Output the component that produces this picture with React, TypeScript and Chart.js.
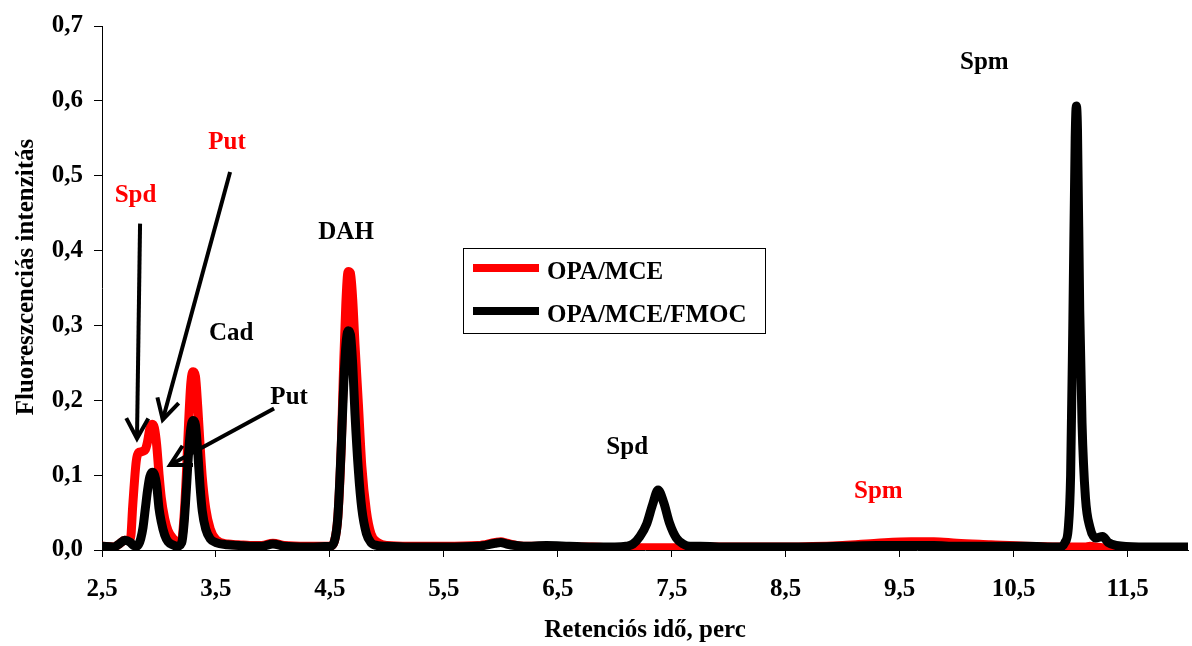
import React, { useEffect, useRef } from 'react';
import { Chart, registerables } from 'chart.js';

Chart.register(...registerables);

// Retention time (min)
const TIME = [
  2.5, 2.6, 2.65, 2.7, 2.75, 2.77, 2.8, 2.82, 2.84, 2.86, 2.88, 2.9, 2.92, 2.94, 2.96, 2.98,
  3.0, 3.02, 3.05, 3.08, 3.12, 3.16, 3.2, 3.22, 3.24, 3.26, 3.28, 3.3, 3.32, 3.34, 3.36, 3.38,
  3.41, 3.45, 3.5, 3.6, 3.7, 3.8, 3.9, 4.0, 4.1, 4.3, 4.5, 4.54, 4.57, 4.6, 4.62, 4.64, 4.66,
  4.68, 4.7, 4.72, 4.75, 4.78, 4.82, 4.86, 4.92, 5.0, 5.2, 5.5, 5.8, 5.95, 6.0, 6.05, 6.2, 6.4,
  6.6, 6.8, 7.0, 7.1, 7.16, 7.22, 7.28, 7.33, 7.38, 7.43, 7.48, 7.54, 7.6, 7.66, 7.75, 8.0,
  8.5, 9.0, 9.3, 9.6, 9.8, 10.0, 10.3, 10.6, 10.9, 10.95, 10.98, 11.0, 11.02, 11.04, 11.05,
  11.06, 11.08, 11.1, 11.13, 11.17, 11.22, 11.28, 11.33, 11.4, 11.6, 12.0, 12.03,
];

// OPA/MCE (red)
const OPA_MCE = [
  0.005, 0.004, 0.008, 0.013, 0.015, 0.06, 0.118, 0.13, 0.131, 0.132, 0.134, 0.145, 0.162, 0.168, 0.163, 0.14,
  0.102, 0.07, 0.042, 0.026, 0.016, 0.011, 0.015, 0.045, 0.1, 0.17, 0.224, 0.238, 0.232, 0.192, 0.142, 0.097,
  0.056, 0.028, 0.014, 0.008, 0.007, 0.006, 0.006, 0.009, 0.006, 0.005, 0.005, 0.012, 0.045, 0.14, 0.245, 0.33, 0.372,
  0.37, 0.335, 0.275, 0.195, 0.112, 0.052, 0.022, 0.01, 0.006, 0.005, 0.005, 0.006, 0.01, 0.011, 0.009, 0.005, 0.005,
  0.004, 0.004, 0.003, 0.003, 0.003, 0.003, 0.003, 0.003, 0.003, 0.003, 0.003, 0.003, 0.003, 0.004, 0.004, 0.004,
  0.004, 0.006, 0.009, 0.011, 0.011, 0.009, 0.007, 0.005, 0.004, 0.004, 0.004, 0.004, 0.004, 0.004, 0.004,
  0.004, 0.004, 0.004, 0.004, 0.005, 0.004, 0.003, 0.003, 0.003, 0.003, 0.003, 0.003,
];

// OPA/MCE/FMOC (black)
const OPA_MCE_FMOC = [
  0.005, 0.004, 0.008, 0.013, 0.01, 0.007, 0.005, 0.007, 0.015, 0.03, 0.055, 0.08, 0.098, 0.104, 0.101, 0.086,
  0.056, 0.038, 0.02, 0.011, 0.007, 0.005, 0.01, 0.035, 0.08, 0.13, 0.163, 0.173, 0.167, 0.132, 0.086, 0.052,
  0.028, 0.015, 0.01, 0.007, 0.006, 0.005, 0.005, 0.008, 0.005, 0.004, 0.005, 0.012, 0.045, 0.14, 0.217, 0.273, 0.293,
  0.288, 0.248, 0.182, 0.106, 0.055, 0.022, 0.01, 0.006, 0.005, 0.004, 0.004, 0.005, 0.009, 0.01, 0.008, 0.005, 0.006,
  0.005, 0.004, 0.004, 0.005, 0.008, 0.018, 0.035, 0.06, 0.08, 0.063, 0.036, 0.016, 0.008, 0.005, 0.005, 0.004,
  0.004, 0.005, 0.006, 0.006, 0.006, 0.005, 0.005, 0.005, 0.004, 0.01, 0.03, 0.1, 0.31, 0.55, 0.593,
  0.563, 0.32, 0.17, 0.07, 0.03, 0.016, 0.018, 0.01, 0.006, 0.004, 0.004, 0.004,
];

const SERIES_NAMES = ['OPA/MCE', 'OPA/MCE/FMOC'];
const SERIES_COLORS = ['#ff0000', '#000000'];

const X_TICKS = [2.5, 3.5, 4.5, 5.5, 6.5, 7.5, 8.5, 9.5, 10.5, 11.5];
const Y_TICKS = [0, 0.1, 0.2, 0.3, 0.4, 0.5, 0.6, 0.7];

const X_TITLE = 'Retenciós idő, perc';
const Y_TITLE = 'Fluoreszcenciás intenzitás';

// Peak labels: text, x (time), baseline y (intensity), colour
const PEAK_TEXT = ['Spd', 'Put', 'DAH', 'Cad', 'Put', 'Spd', 'Spm', 'Spm'];
const PEAK_X = [2.794, 3.597, 4.642, 3.633, 4.142, 7.109, 9.313, 10.243];
const PEAK_Y = [0.4655, 0.536, 0.416, 0.281, 0.1946, 0.128, 0.0697, 0.642];
const PEAK_COLOR = ['#ff0000', '#ff0000', '#000000', '#000000', '#000000', '#000000', '#ff0000', '#000000'];

// Arrows: from (x1, y1) to tip (x2, y2) in data units
const ARROW_X1 = [2.834, 3.624, 4.01];
const ARROW_Y1 = [0.436, 0.505, 0.189];
const ARROW_X2 = [2.807, 3.033, 3.097];
const ARROW_Y2 = [0.149, 0.174, 0.1135];

const FONT_FAMILY = "'Liberation Serif', 'Times New Roman', serif";
const fmt = (v: number) => Number(v).toFixed(1).replace('.', ',');

const overlayPlugin = {
  id: 'overlay',
  afterDraw(chart: any) {
    const { ctx, chartArea } = chart;
    const xs = chart.scales.x;
    const ys = chart.scales.y;
    ctx.save();

    // arrows
    ctx.strokeStyle = '#000';
    ctx.lineWidth = 4;
    ctx.lineCap = 'butt';
    ctx.lineJoin = 'miter';
    for (let i = 0; i < ARROW_X1.length; i++) {
      const x1 = xs.getPixelForValue(ARROW_X1[i]);
      const y1 = ys.getPixelForValue(ARROW_Y1[i]);
      const x2 = xs.getPixelForValue(ARROW_X2[i]);
      const y2 = ys.getPixelForValue(ARROW_Y2[i]);
      const ang = Math.atan2(y2 - y1, x2 - x1);
      ctx.beginPath();
      ctx.moveTo(x1, y1);
      ctx.lineTo(x2, y2);
      ctx.stroke();
      const hl = 23;
      const sp = 0.5;
      ctx.beginPath();
      ctx.moveTo(x2 - hl * Math.cos(ang - sp), y2 - hl * Math.sin(ang - sp));
      ctx.lineTo(x2, y2);
      ctx.lineTo(x2 - hl * Math.cos(ang + sp), y2 - hl * Math.sin(ang + sp));
      ctx.stroke();
    }

    // peak labels
    ctx.font = `bold 25px ${FONT_FAMILY}`;
    ctx.textAlign = 'center';
    ctx.textBaseline = 'alphabetic';
    for (let i = 0; i < PEAK_TEXT.length; i++) {
      ctx.fillStyle = PEAK_COLOR[i];
      ctx.fillText(PEAK_TEXT[i], xs.getPixelForValue(PEAK_X[i]), ys.getPixelForValue(PEAK_Y[i]));
    }

    // legend
    const lx = 463, ly = 248, lw = 302, lh = 85;
    ctx.fillStyle = '#fff';
    ctx.fillRect(lx, ly, lw, lh);
    ctx.strokeStyle = '#000';
    ctx.lineWidth = 1;
    ctx.strokeRect(lx + 0.5, ly + 0.5, lw, lh);
    const ds = chart.data.datasets;
    const rows = [268, 311];
    ctx.textAlign = 'left';
    ctx.font = `bold 25px ${FONT_FAMILY}`;
    for (let i = 0; i < ds.length; i++) {
      ctx.strokeStyle = ds[i].borderColor;
      ctx.lineWidth = 8;
      ctx.beginPath();
      ctx.moveTo(473, rows[i]);
      ctx.lineTo(539, rows[i]);
      ctx.stroke();
      ctx.fillStyle = '#000';
      ctx.fillText(ds[i].label, 547, rows[i] + 11);
    }

    // axis titles
    ctx.fillStyle = '#000';
    ctx.textAlign = 'center';
    ctx.font = `bold 25px ${FONT_FAMILY}`;
    ctx.fillText(X_TITLE, (chartArea.left + chartArea.right) / 2, 637);
    ctx.save();
    ctx.translate(33, 277);
    ctx.rotate(-Math.PI / 2);
    ctx.fillText(Y_TITLE, 0, 0);
    ctx.restore();

    ctx.restore();
  },
};

export default function App() {
  const ref = useRef<HTMLCanvasElement>(null);
  useEffect(() => {
    const canvas = ref.current;
    if (!canvas) return;
    const tickFont = { family: FONT_FAMILY, size: 25, weight: 'bold' as const };
    const chart = new Chart(canvas, {
      type: 'line',
      data: {
        datasets: [
          {
            label: SERIES_NAMES[0],
            data: TIME.map((t, i) => ({ x: t, y: OPA_MCE[i] })),
            borderColor: SERIES_COLORS[0],
            backgroundColor: SERIES_COLORS[0],
            borderWidth: 9,
            pointRadius: 0,
            cubicInterpolationMode: 'monotone',
            borderJoinStyle: 'round',
            borderCapStyle: 'round',
            order: 2,
          },
          {
            label: SERIES_NAMES[1],
            data: TIME.map((t, i) => ({ x: t, y: OPA_MCE_FMOC[i] })),
            borderColor: SERIES_COLORS[1],
            backgroundColor: SERIES_COLORS[1],
            borderWidth: 9,
            pointRadius: 0,
            cubicInterpolationMode: 'monotone',
            borderJoinStyle: 'round',
            borderCapStyle: 'round',
            order: 1,
          },
        ],
      },
      options: {
        responsive: false,
        animation: false,
        devicePixelRatio: 1,
        layout: { padding: { left: 0, top: 23, right: 4, bottom: 0 } },
        plugins: { legend: { display: false }, tooltip: { enabled: false } },
        scales: {
          x: {
            type: 'linear',
            min: 2.5,
            max: 12.03,
            afterBuildTicks: (s: any) => {
              s.ticks = X_TICKS.map((v) => ({ value: v }));
            },
            afterFit: (s: any) => {
              s.height = 96;
            },
            grid: { drawOnChartArea: false, drawTicks: true, tickLength: 7, color: '#000' },
            border: { display: true, color: '#000', width: 1 },
            ticks: {
              font: tickFont,
              color: '#000',
              padding: 18,
              maxRotation: 0,
              autoSkip: false,
              callback: (v: any) => fmt(v),
            },
          },
          y: {
            type: 'linear',
            min: 0,
            max: 0.7,
            afterBuildTicks: (s: any) => {
              s.ticks = Y_TICKS.map((v) => ({ value: v }));
            },
            afterFit: (s: any) => {
              s.width = 102;
            },
            grid: { drawOnChartArea: false, drawTicks: true, tickLength: 8, color: '#000' },
            border: { display: true, color: '#000', width: 1 },
            ticks: {
              font: tickFont,
              color: '#000',
              padding: 11,
              autoSkip: false,
              callback: (v: any) => fmt(v),
            },
          },
        },
      },
      plugins: [overlayPlugin],
    } as any);
    return () => chart.destroy();
  }, []);
  return (
    <div style={{ position: 'absolute', left: 0, top: 0, width: 1192, height: 646, background: '#fff' }}>
      <canvas ref={ref} width={1192} height={646} style={{ display: 'block' }} />
    </div>
  );
}
